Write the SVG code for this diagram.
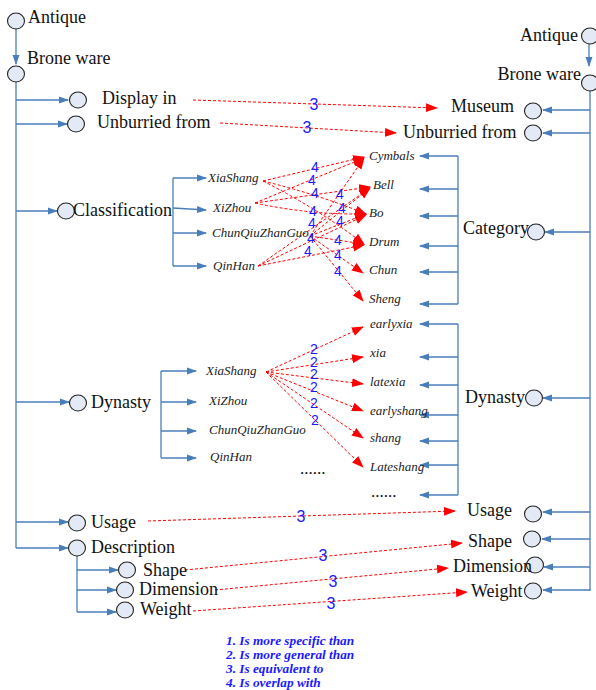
<svg xmlns="http://www.w3.org/2000/svg" width="596" height="690" viewBox="0 0 596 690">
<defs>
<marker id="ab" markerWidth="10" markerHeight="8" refX="9" refY="4" orient="auto" markerUnits="userSpaceOnUse"><path d="M0,0.5 L10,4 L0,7.5 Z" fill="#4a7ebb"/></marker>
<marker id="ar" markerWidth="12" markerHeight="10" refX="11" refY="5" orient="auto" markerUnits="userSpaceOnUse"><path d="M0,0.5 L12,5 L0,9.5 Z" fill="#ff0000"/></marker>
</defs>
<style>
.n{fill:#e3eaf5;stroke:#222;stroke-width:1.1}
.t{font-family:'Liberation Serif','DejaVu Serif','Times New Roman',serif;font-size:18px;fill:#111}
.i{font-family:'Liberation Serif','DejaVu Serif','Times New Roman',serif;font-size:13px;font-style:italic;fill:#222}
.d{font-family:'Liberation Serif','DejaVu Serif','Times New Roman',serif;font-size:17px;fill:#111}
.b{fill:none;stroke:#4a7ebb;stroke-width:1.3}
.ba{fill:none;stroke:#4a7ebb;stroke-width:1.3;marker-end:url(#ab)}
.r{fill:none;stroke:#ff0000;stroke-width:1;stroke-dasharray:3 2;marker-end:url(#ar)}
.l{font-family:'Liberation Sans','DejaVu Sans',Arial,sans-serif;font-size:14px;fill:#1a1aff;text-anchor:middle}
.l3{font-family:'Liberation Sans','DejaVu Sans',Arial,sans-serif;font-size:16px;fill:#1a1aff;text-anchor:middle}
.g{font-family:'Liberation Serif','DejaVu Serif','Times New Roman',serif;font-size:13.3px;font-weight:bold;font-style:italic;fill:#1a1aff}
</style>

<g id="connectors">
<path class="ba" d="M16,26 V64"/>
<path class="b" d="M16,82 V548"/>
<path class="ba" d="M16,100 H68"/>
<path class="ba" d="M16,124 H67"/>
<path class="ba" d="M16,211 H57"/>
<path class="ba" d="M16,402 H69"/>
<path class="ba" d="M16,522 H68"/>
<path class="ba" d="M16,548 H68"/>
<path class="b" d="M77,556 V612"/>
<path class="ba" d="M77,570 H118"/>
<path class="ba" d="M77,590 H116"/>
<path class="ba" d="M77,612 H116"/>
<path class="b" d="M173,178 V266"/>
<path class="ba" d="M173,178 H206"/>
<path class="ba" d="M173,208 L206,210"/>
<path class="ba" d="M173,233 H206"/>
<path class="ba" d="M173,266 H206"/>
<path class="b" d="M161,371 V458"/>
<path class="ba" d="M161,371 H196"/>
<path class="ba" d="M161,402 H196"/>
<path class="ba" d="M161,431 H196"/>
<path class="ba" d="M161,458 H196"/>
<path class="ba" d="M589,44 V66"/>
<path class="b" d="M590,84 V591"/>
<path class="ba" d="M590,110 H543"/>
<path class="ba" d="M590,133 H543"/>
<path class="ba" d="M590,232 H545"/>
<path class="ba" d="M590,398 H543"/>
<path class="ba" d="M590,512 H543"/>
<path class="ba" d="M590,539 H542"/>
<path class="ba" d="M590,567 H544"/>
<path class="ba" d="M590,590 H543"/>
<path class="b" d="M458,156 V304"/>
<path class="ba" d="M458,156 H420"/>
<path class="ba" d="M458,189 H420"/>
<path class="ba" d="M458,216 H420"/>
<path class="ba" d="M458,246 H420"/>
<path class="ba" d="M458,272 H420"/>
<path class="ba" d="M458,304 H420"/>
<path class="b" d="M458,324 V495"/>
<path class="ba" d="M458,324 H420"/>
<path class="ba" d="M458,357 H420"/>
<path class="ba" d="M458,385 H420"/>
<path class="ba" d="M458,415 H420"/>
<path class="ba" d="M458,441 H420"/>
<path class="ba" d="M458,465 H420"/>
<path class="ba" d="M458,495 H420"/>
<path class="r" d="M193,100 L437,108"/>
<path class="r" d="M220,123 L396,133"/>
<path class="r" d="M148,521 L455,511"/>
<path class="r" d="M185,570 L462,543"/>
<path class="r" d="M215,590 L448,568"/>
<path class="r" d="M193,611 L467,592"/>
<path class="r" d="M263,181 L364,157"/>
<path class="r" d="M263,181 Q320,195 366,214"/>
<path class="r" d="M263,181 Q320,210 364,244"/>
<path class="r" d="M255,203 L364,158"/>
<path class="r" d="M255,203 L370,187"/>
<path class="r" d="M255,203 Q310,215 366,214"/>
<path class="r" d="M310,236 L364,158"/>
<path class="r" d="M310,236 L370,188"/>
<path class="r" d="M310,236 L366,214"/>
<path class="r" d="M310,236 L364,244"/>
<path class="r" d="M310,236 L363,273"/>
<path class="r" d="M310,236 L363,301"/>
<path class="r" d="M258,266 L370,188"/>
<path class="r" d="M258,266 L366,215"/>
<path class="r" d="M258,266 L364,245"/>
<path class="r" d="M266,372 L363,327"/>
<path class="r" d="M266,372 L363,357"/>
<path class="r" d="M266,372 L363,384"/>
<path class="r" d="M266,372 L363,411"/>
<path class="r" d="M266,372 L363,438"/>
<path class="r" d="M266,372 L363,467"/>
</g>

<g id="edge-labels">
<text class="l3" x="314" y="110">3</text>
<text class="l3" x="307" y="133">3</text>
<text class="l3" x="301" y="522">3</text>
<text class="l3" x="323" y="561">3</text>
<text class="l3" x="333" y="587">3</text>
<text class="l3" x="331" y="609">3</text>
<text class="l" x="315" y="172">4</text>
<text class="l" x="312" y="185">4</text>
<text class="l" x="315" y="198">4</text>
<text class="l" x="313" y="216">4</text>
<text class="l" x="312" y="228">4</text>
<text class="l" x="311" y="243">4</text>
<text class="l" x="308" y="256">4</text>
<text class="l" x="340" y="199">4</text>
<text class="l" x="342" y="213">4</text>
<text class="l" x="340" y="226">4</text>
<text class="l" x="338" y="245">4</text>
<text class="l" x="338" y="260">4</text>
<text class="l" x="338" y="276">4</text>
<text class="l" x="314" y="354">2</text>
<text class="l" x="314" y="367">2</text>
<text class="l" x="314" y="379">2</text>
<text class="l" x="314" y="392">2</text>
<text class="l" x="314" y="408">2</text>
<text class="l" x="315" y="425">2</text>
</g>

<g id="l-antique"><ellipse class="n" cx="16" cy="21" rx="8.5" ry="8"/><text class="t" x="28" y="23">Antique</text></g>
<g id="l-bronze"><ellipse class="n" cx="16" cy="74" rx="8.5" ry="8"/><text class="t" x="27" y="64">Brone ware</text></g>
<g id="l-display"><ellipse class="n" cx="78" cy="100" rx="8.5" ry="8"/><text class="t" x="102" y="104">Display in</text></g>
<g id="l-unburried"><ellipse class="n" cx="76" cy="124" rx="8.5" ry="8"/><text class="t" x="97" y="128">Unburried from</text></g>
<g id="l-classification"><ellipse class="n" cx="66" cy="211" rx="8.5" ry="8"/><text class="t" x="73" y="216">Classification</text></g>
<g id="l-dynasty"><ellipse class="n" cx="78" cy="403" rx="8.5" ry="8"/><text class="t" x="91" y="408">Dynasty</text></g>
<g id="l-usage"><ellipse class="n" cx="77" cy="523" rx="8.5" ry="8"/><text class="t" x="91" y="528">Usage</text></g>
<g id="l-description"><ellipse class="n" cx="77" cy="548" rx="8.5" ry="8"/><text class="t" x="91" y="553">Description</text></g>
<g id="l-shape"><ellipse class="n" cx="127" cy="570" rx="8.5" ry="8"/><text class="t" x="143" y="576">Shape</text></g>
<g id="l-dimension"><ellipse class="n" cx="125" cy="590" rx="8.5" ry="8"/><text class="t" x="139" y="595">Dimension</text></g>
<g id="l-weight"><ellipse class="n" cx="125" cy="610" rx="8.5" ry="8"/><text class="t" x="140" y="615">Weight</text></g>

<g id="lc-xiashang"><text class="i" x="208" y="182">XiaShang</text></g>
<g id="lc-xizhou"><text class="i" x="213" y="212">XiZhou</text></g>
<g id="lc-chunqiu"><text class="i" x="212" y="237">ChunQiuZhanGuo</text></g>
<g id="lc-qinhan"><text class="i" x="213" y="270">QinHan</text></g>

<g id="ld-xiashang"><text class="i" x="206" y="375">XiaShang</text></g>
<g id="ld-xizhou"><text class="i" x="209" y="405">XiZhou</text></g>
<g id="ld-chunqiu"><text class="i" x="209" y="434">ChunQiuZhanGuo</text></g>
<g id="ld-qinhan"><text class="i" x="210" y="461">QinHan</text></g>
<g id="ld-more"><text class="d" x="300" y="474">......</text></g>

<g id="r-antique"><ellipse class="n" cx="590" cy="36" rx="8.5" ry="8"/><text class="t" x="578" y="41" text-anchor="end">Antique</text></g>
<g id="r-bronze"><ellipse class="n" cx="590" cy="83" rx="8.5" ry="8"/><text class="t" x="581" y="80" text-anchor="end">Brone ware</text></g>
<g id="r-museum"><ellipse class="n" cx="533" cy="111" rx="8.5" ry="8"/><text class="t" x="451" y="112">Museum</text></g>
<g id="r-unburried"><ellipse class="n" cx="533" cy="133" rx="8.5" ry="8"/><text class="t" x="403" y="138">Unburried from</text></g>
<g id="r-category"><ellipse class="n" cx="536" cy="232" rx="8.5" ry="8"/><text class="t" x="463" y="234">Category</text></g>
<g id="r-dynasty"><ellipse class="n" cx="534" cy="398" rx="8.5" ry="8"/><text class="t" x="465" y="403">Dynasty</text></g>
<g id="r-usage"><ellipse class="n" cx="533" cy="514" rx="8.5" ry="8"/><text class="t" x="467" y="516">Usage</text></g>
<g id="r-shape"><ellipse class="n" cx="532" cy="539" rx="8.5" ry="8"/><text class="t" x="468" y="547">Shape</text></g>
<g id="r-dimension"><ellipse class="n" cx="535" cy="565" rx="8.5" ry="8"/><text class="t" x="453" y="572">Dimension</text></g>
<g id="r-weight"><ellipse class="n" cx="533" cy="591" rx="8.5" ry="8"/><text class="t" x="471" y="597">Weight</text></g>

<g id="rc-cymbals"><text class="i" x="369" y="160">Cymbals</text></g>
<g id="rc-bell"><text class="i" x="373" y="189">Bell</text></g>
<g id="rc-bo"><text class="i" x="369" y="217">Bo</text></g>
<g id="rc-drum"><text class="i" x="369" y="246">Drum</text></g>
<g id="rc-chun"><text class="i" x="369" y="274">Chun</text></g>
<g id="rc-sheng"><text class="i" x="369" y="303">Sheng</text></g>

<g id="rd-earlyxia"><text class="i" x="370" y="328">earlyxia</text></g>
<g id="rd-xia"><text class="i" x="370" y="357">xia</text></g>
<g id="rd-latexia"><text class="i" x="370" y="386">latexia</text></g>
<g id="rd-earlyshang"><text class="i" x="370" y="415">earlyshang</text></g>
<g id="rd-shang"><text class="i" x="370" y="442">shang</text></g>
<g id="rd-lateshang"><text class="i" x="370" y="471">Lateshang</text></g>
<g id="rd-more"><text class="d" x="371" y="497">......</text></g>

<g id="legend">
<text class="g" x="226" y="645">1. Is more specific than</text>
<text class="g" x="226" y="659">2. Is more general than</text>
<text class="g" x="226" y="673">3. Is equivalent to</text>
<text class="g" x="226" y="687">4. Is overlap with</text>
</g>
</svg>
